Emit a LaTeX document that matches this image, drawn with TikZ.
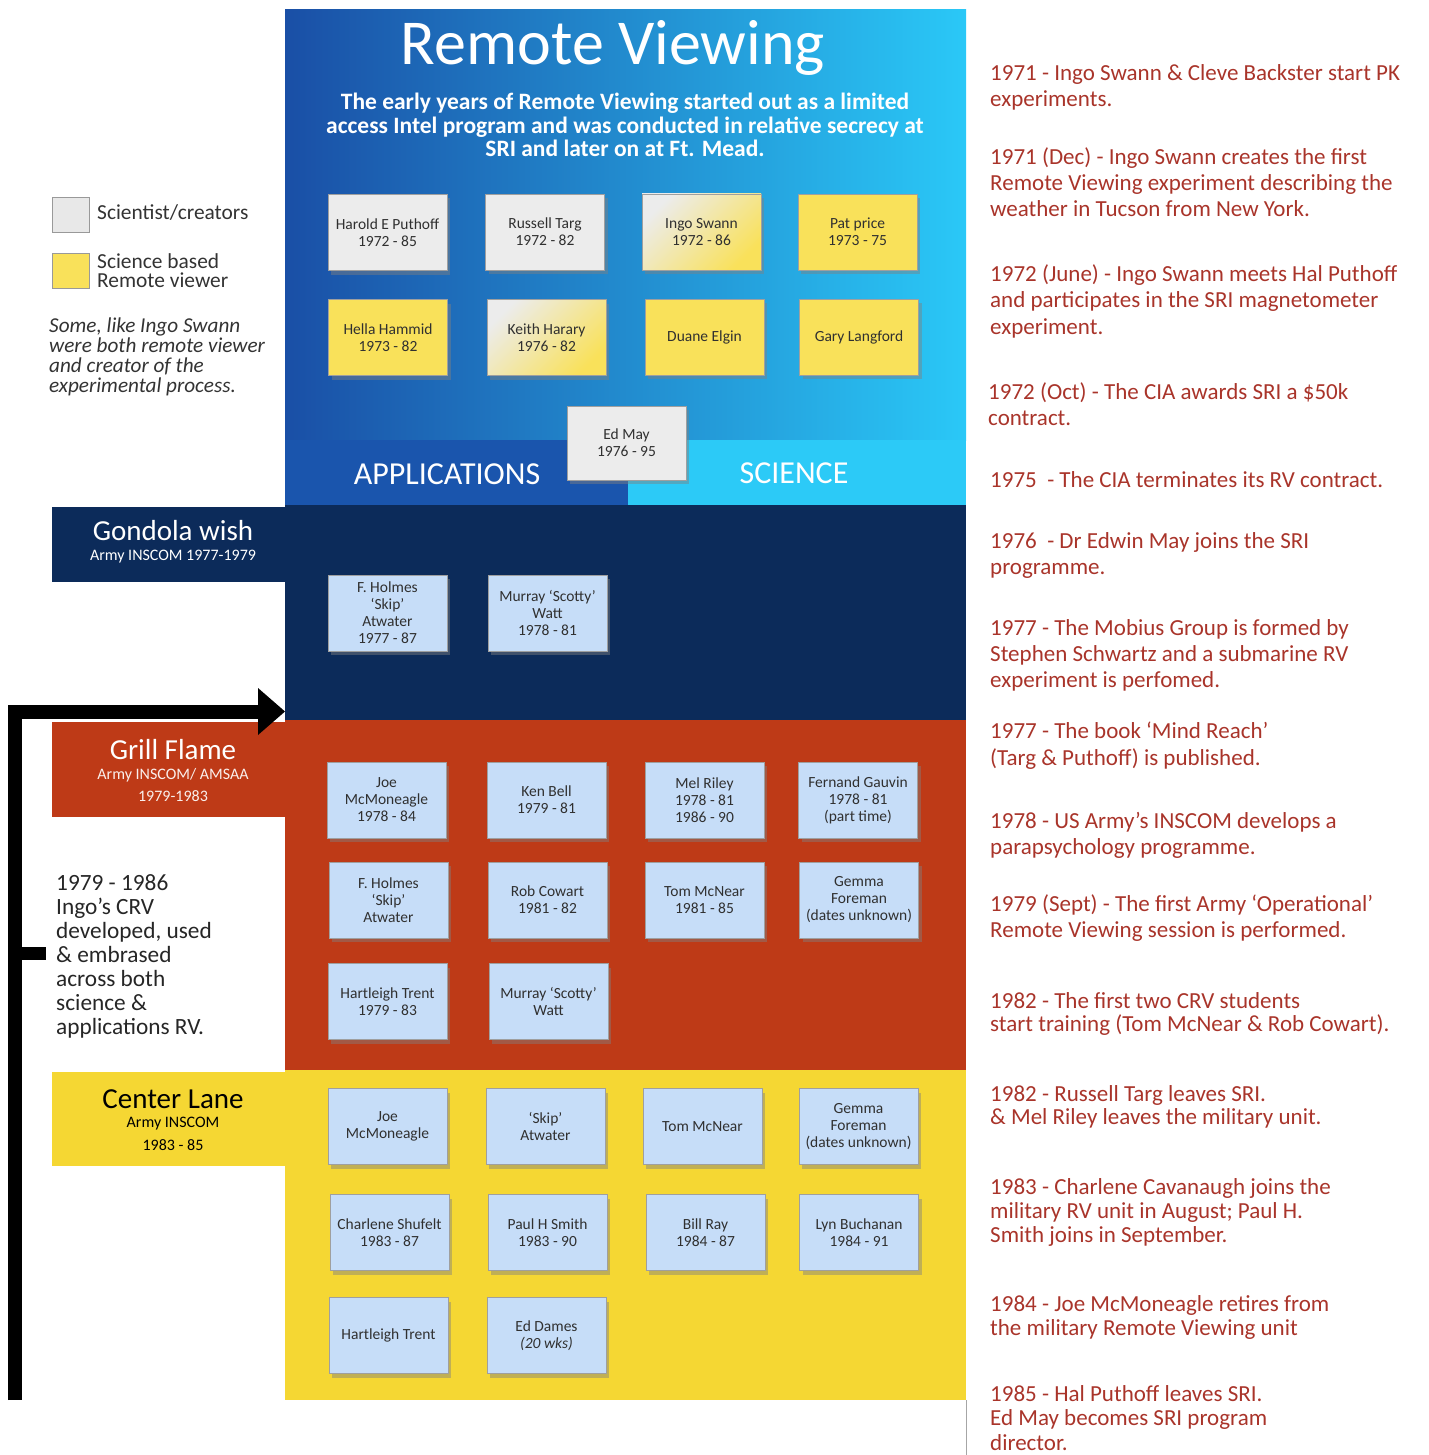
\documentclass[tikz,border=0pt]{standalone}
\usepackage{fontspec}
\setmainfont{Carlito}
\usetikzlibrary{shadows}
\definecolor{bluedark}{HTML}{1A4FA6}
\definecolor{bluemid}{HTML}{1F6DC3}
\definecolor{bluelight}{HTML}{2AC8F7}
\definecolor{bandleft}{HTML}{1A55AD}
\definecolor{bandright}{HTML}{2CCAF7}
\definecolor{navy}{HTML}{0C2B5A}
\definecolor{rust}{HTML}{BE3A17}
\definecolor{sun}{HTML}{F5D733}
\definecolor{boxgray}{HTML}{ECECEC}
\definecolor{boxyellow}{HTML}{F9E15A}
\definecolor{boxblue}{HTML}{C6DDF8}
\definecolor{eventred}{HTML}{A9342A}
\definecolor{boxtext}{HTML}{303030}
\begin{document}
\begin{tikzpicture}[x=1pt,y=-1pt,
  card/.style={draw=gray!75, line width=0.8pt, minimum width=119pt, minimum height=76pt,
    align=center, font=\fontsize{15.5}{17}\selectfont, text=boxtext, inner sep=1pt,
    drop shadow={shadow xshift=3pt, shadow yshift=-4pt, opacity=0.45}},
  sci/.style={card, fill=boxgray},
  rv/.style={card, fill=boxyellow},
  both/.style={card, left color=boxgray, right color=boxyellow, shading angle=45},
  mil/.style={card, fill=boxblue},
  event/.style={anchor=north west, align=left, text=eventred, inner sep=0pt,
    font=\fontsize{23}{26}\selectfont},
  tabtitle/.style={font=\fontsize{29}{30}\selectfont, inner sep=0pt},
  tabsub/.style={font=\fontsize{16}{16}\selectfont, inner sep=0pt},
  legendbox/.style={draw=gray!80, line width=0.8pt, minimum width=37pt, minimum height=35pt, inner sep=0pt},
  legendtext/.style={anchor=west, align=left, inner sep=0pt, text=black!80, font=\fontsize{21.4}{19}\selectfont}
]
\useasboundingbox (0,0) rectangle (1428,1455);

% ---------- panels ----------
\shade[left color=bluedark, middle color=bluemid, right color=bluelight] (285,10) rectangle (966,440);
\fill[bandleft] (285,440) rectangle (628,505);
\fill[bandright] (628,440) rectangle (966,505);
\fill[navy] (285,505) rectangle (966,720);
\fill[navy] (52,507) rectangle (285,582);
\fill[rust] (285,720) rectangle (966,1070);
\fill[rust] (52,722) rectangle (285,817);
\fill[sun] (285,1070) rectangle (966,1400);
\fill[sun] (52,1072) rectangle (285,1166);
\draw[gray!70, line width=0.8pt] (966,1400) -- (966,1455);

% ---------- title ----------
\node[text=white, font=\fontsize{64}{66}\selectfont, inner sep=0pt] (title) at (613,48) {Remote Viewing};
\node[text=white, font=\bfseries\fontsize{23.5}{23.5}\selectfont, align=center, inner sep=0pt] (subtitle) at (625,125)
  {The early years of Remote Viewing started out as a limited\\access Intel program and was conducted in relative secrecy at\\SRI and later on at Ft. Mead.};
\node[text=white, font=\fontsize{32}{32}\selectfont, inner sep=0pt] (applications) at (447,474) {APPLICATIONS};
\node[text=white, font=\fontsize{32}{32}\selectfont, inner sep=0pt] (science) at (794,473) {SCIENCE};

% ---------- SRI cards ----------
\node[sci]  (puthoff) at (387.5,232.5) {Harold E Puthoff\\1972 - 85};
\node[sci]  (targ)    at (545,232)     {Russell Targ\\1972 - 82};
\node[both] (swann)   at (701.5,232)   {Ingo Swann\\1972 - 86};
\node[rv]   (price)   at (857.5,232)   {Pat price\\1973 - 75};
\node[rv]   (hammid)  at (388,337.5)   {Hella Hammid\\1973 - 82};
\node[both] (harary)  at (546.5,337.5) {Keith Harary\\1976 - 82};
\node[rv]   (elgin)   at (704.5,337)   {Duane Elgin};
\node[rv]   (langford) at (859,337)    {Gary Langford};
\node[sci, minimum height=74pt] (may) at (626.5,443) {Ed May\\1976 - 95};

% ---------- Gondola wish ----------
\node[tabtitle, text=white] (gwtitle) at (173,531) {Gondola wish};
\node[tabsub, text=white] (gwsub) at (173,557) {Army INSCOM 1977-1979};
\node[mil] (gw1) at (387.5,613) {F. Holmes\\‘Skip’\\Atwater\\1977 - 87};
\node[mil] (gw2) at (547.5,613) {Murray ‘Scotty’\\Watt\\1978 - 81};

% ---------- Grill Flame ----------
\node[tabtitle, text=white] (gftitle) at (173,750) {Grill Flame};
\node[tabsub, text=white!92!rust] (gfsub1) at (173,775) {Army INSCOM/ AMSAA};
\node[tabsub, text=white!92!rust] (gfsub2) at (173,796) {1979-1983};
\node[mil] (gf1)  at (386.5,800) {Joe\\McMoneagle\\1978 - 84};
\node[mil] (gf2)  at (546.5,800) {Ken Bell\\1979 - 81};
\node[mil] (gf3)  at (704.5,800) {Mel Riley\\1978 - 81\\1986 - 90};
\node[mil] (gf4)  at (858,800)   {Fernand Gauvin\\1978 - 81\\(part time)};
\node[mil] (gf5)  at (388.5,900) {F. Holmes\\‘Skip’\\Atwater};
\node[mil] (gf6)  at (547.5,900) {Rob Cowart\\1981 - 82};
\node[mil] (gf7)  at (704.5,900) {Tom McNear\\1981 - 85};
\node[mil] (gf8)  at (859,900)   {Gemma\\Foreman\\(dates unknown)};
\node[mil] (gf9)  at (387.5,1001.5) {Hartleigh Trent\\1979 - 83};
\node[mil] (gf10) at (548.5,1001.5) {Murray ‘Scotty’\\Watt};

% ---------- Center Lane ----------
\node[tabtitle, text=black] (cltitle) at (173,1099) {Center Lane};
\node[tabsub, text=black] (clsub1) at (173,1124) {Army INSCOM};
\node[tabsub, text=black] (clsub2) at (173,1145) {1983 - 85};
\node[mil] (cl1)  at (387.5,1126.5) {Joe\\McMoneagle};
\node[mil] (cl2)  at (545.5,1126.5) {‘Skip’\\Atwater};
\node[mil] (cl3)  at (702.5,1126.5) {Tom McNear};
\node[mil] (cl4)  at (858.5,1126.5) {Gemma\\Foreman\\(dates unknown)};
\node[mil] (cl5)  at (389.5,1232.5) {Charlene Shufelt\\1983 - 87};
\node[mil] (cl6)  at (547.5,1232.5) {Paul H Smith\\1983 - 90};
\node[mil] (cl7)  at (705.5,1232.5) {Bill Ray\\1984 - 87};
\node[mil] (cl8)  at (859,1232.5)   {Lyn Buchanan\\1984 - 91};
\node[mil] (cl9)  at (388.5,1335.5) {Hartleigh Trent};
\node[mil] (cl10) at (546.5,1335.5) {Ed Dames\\\textit{(20 wks)}};

% ---------- legend ----------
\node[legendbox, fill=black!9] (leggray) at (70.5,214.5) {};
\node[legendtext] (leggraytext) at (97,213) {Scientist/creators};
\node[legendbox, fill=boxyellow] (legyellow) at (70.5,270.5) {};
\node[legendtext] (legyellowtext) at (97,271) {Science based\\Remote viewer};
\node[anchor=north west, align=left, inner sep=0pt, text=black!80, font=\itshape\fontsize{21.2}{19.7}\selectfont] (legnote) at (49,318)
  {Some, like Ingo Swann\\were both remote viewer\\and creator of the\\experimental process.};

% ---------- CRV arrow ----------
\coordinate (arrowstart) at (15,1400);
\coordinate (arrowtip) at (285,711.5);
\draw[black, line width=14pt] (arrowstart) |- ([xshift=-25pt]arrowtip);
\fill[black] ([xshift=-27pt,yshift=-23.5pt]arrowtip) -- (arrowtip) -- ([xshift=-27pt,yshift=23.5pt]arrowtip) -- cycle;
\coordinate (stubend) at (46,953.5);
\draw[black, line width=13pt] (stubend -| arrowstart) -- (stubend);
\node[anchor=north west, align=left, inner sep=0pt, text=black!85, font=\fontsize{23.3}{24}\selectfont] (crvtext) at (56,874.5)
  {1979 - 1986\\Ingo’s CRV\\developed, used\\\& embrased\\across both\\science \&\\applications RV.};

% ---------- events ----------
\node[event] (e1)  at (990,64)   {1971 - Ingo Swann \& Cleve Backster start PK\\experiments.};
\node[event] (e2)  at (990,147)  {1971 (Dec) - Ingo Swann creates the first\\Remote Viewing experiment describing the\\weather in Tucson from New York.};
\node[event, font=\fontsize{23}{26.5}\selectfont] (e3)  at (990,264)  {1972 (June) - Ingo Swann meets Hal Puthoff\\and participates in the SRI magnetometer\\experiment.};
\node[event] (e4)  at (988,382)  {1972 (Oct) - The CIA awards SRI a \$50k\\contract.};
\node[event] (e5)  at (990,471)  {1975\ \ - The CIA terminates its RV contract.};
\node[event] (e6)  at (990,532)  {1976\ \ - Dr Edwin May joins the SRI\\programme.};
\node[event] (e7)  at (990,619)  {1977 - The Mobius Group is formed by\\Stephen Schwartz and a submarine RV\\experiment is perfomed.};
\node[event, font=\fontsize{23}{27}\selectfont] (e8)  at (990,722)  {1977 - The book ‘Mind Reach’\\(Targ \& Puthoff) is published.};
\node[event] (e9)  at (990,812)  {1978 - US Army’s INSCOM develops a\\parapsychology programme.};
\node[event] (e10) at (990,894)  {1979 (Sept) - The first Army ‘Operational’\\Remote Viewing session is performed.};
\node[event, font=\fontsize{23}{23.5}\selectfont] (e11) at (990,992)  {1982 - The first two CRV students\\start training (Tom McNear \& Rob Cowart).};
\node[event, font=\fontsize{23}{23.5}\selectfont] (e12) at (990,1085) {1982 - Russell Targ leaves SRI.\\\& Mel Riley leaves the military unit.};
\node[event, font=\fontsize{23}{24}\selectfont] (e13) at (990,1178) {1983 - Charlene Cavanaugh joins the\\military RV unit in August; Paul H.\\Smith joins in September.};
\node[event, font=\fontsize{23}{24}\selectfont] (e14) at (990,1295) {1984 - Joe McMoneagle retires from\\the military Remote Viewing unit};
\node[event, font=\fontsize{23}{24.5}\selectfont] (e15) at (990,1385) {1985 - Hal Puthoff leaves SRI.\\Ed May becomes SRI program\\director.};
\end{tikzpicture}
\end{document}
